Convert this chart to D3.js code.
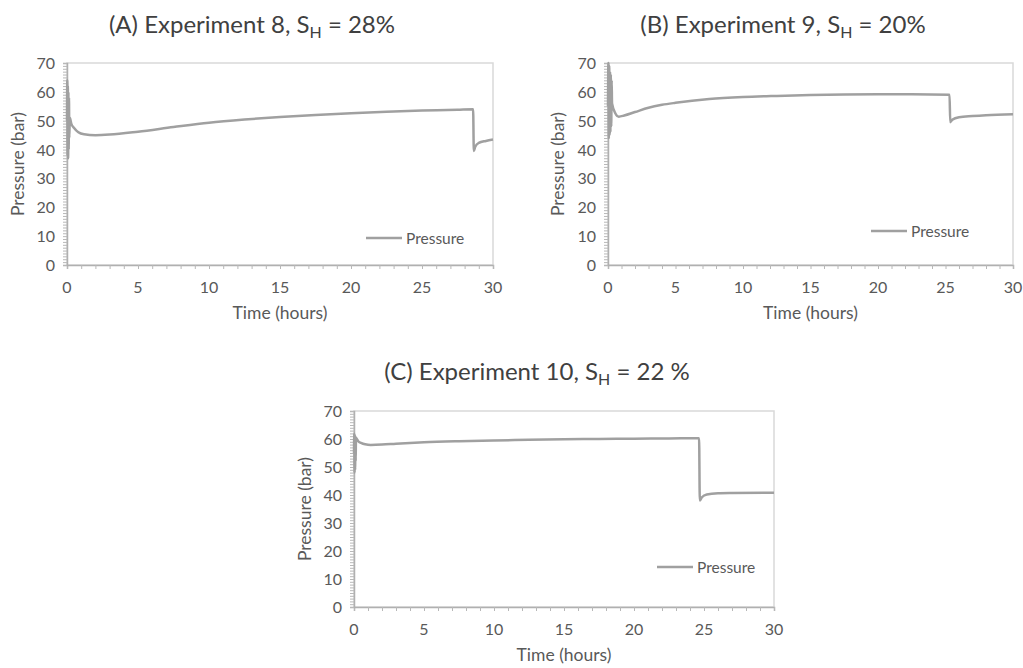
<!DOCTYPE html>
<html>
<head>
<meta charset="utf-8">
<script src="https://cdn.jsdelivr.net/npm/d3@7"></script>
<style>
  body { margin: 0; background: #fff; }
  svg { font-family: Lato, "Open Sans", sans-serif; }
</style>
</head>
<body>
<div id="chart"></div>
<script>
// --- data (time in hours, pressure in bar) ---
const timeA = [0, 0.02, 0.04, 0.06, 0.08, 0.10, 0.12, 0.14, 0.16, 0.2, 0.3, 0.5, 0.8, 1.2, 2, 3, 5, 7.5, 10, 12.5, 15, 17.5, 20, 22.5, 25, 27.5, 28.6, 28.65, 28.75, 29, 29.5, 30];
const pressureA = [50, 64, 38, 62, 37, 60, 40, 58, 44, 51, 49, 47.5, 46, 45.3, 45, 45.2, 46.2, 47.8, 49.3, 50.4, 51.3, 52, 52.6, 53.1, 53.5, 53.8, 54, 39.5, 41, 42.3, 43, 43.5];

const timeB = [0, 0.03, 0.06, 0.09, 0.12, 0.15, 0.18, 0.21, 0.24, 0.27, 0.3, 0.55, 0.8, 1.2, 2, 3, 4, 5, 7.5, 10, 12.5, 15, 17.5, 20, 22.5, 25.3, 25.35, 25.5, 26, 27, 28, 30];
const pressureB = [55, 70, 44, 69, 45, 67, 46, 66, 48, 64, 56, 52.5, 51.4, 51.8, 53, 54.5, 55.5, 56.2, 57.5, 58.2, 58.6, 58.9, 59.1, 59.2, 59.2, 59, 49.5, 50.3, 51.2, 51.6, 51.9, 52.2];

const timeC = [0, 0.02, 0.04, 0.06, 0.08, 0.10, 0.12, 0.14, 0.2, 0.3, 0.5, 0.8, 1.2, 2, 3, 5, 7.5, 10, 12.5, 15, 17.5, 20, 22.5, 24.65, 24.7, 24.85, 25.2, 26, 27, 30];
const pressureC = [55, 62, 48, 61.5, 49, 61, 52, 60.5, 60, 59.2, 58.6, 58.1, 57.9, 58, 58.3, 58.8, 59.2, 59.5, 59.7, 59.9, 60, 60.1, 60.2, 60.3, 38, 39.2, 40.2, 40.6, 40.7, 40.8];

const xTicks = [0, 5, 10, 15, 20, 25, 30];
const yTicks = [0, 10, 20, 30, 40, 50, 60, 70];
const seriesName = "Pressure";

const W = 1023, H = 668;
const svg = d3.select("#chart").append("svg")
  .attr("width", W)
  .attr("height", H);

const textColor = "#595959";
const lineColor = "#a0a0a0";

function drawPanel(opt) {
  const { left, right, top, bottom, time, pressure, label, sub, rest, titleX, titleY, legendX, legendY, yLabelX } = opt;

  const x = d3.scaleLinear().domain([0, 30]).range([left, right]);
  const y = d3.scaleLinear().domain([0, 70]).range([bottom, top]);
  const g = svg.append("g");

  // plot frame (light)
  g.append("rect")
    .attr("x", left).attr("y", top)
    .attr("width", right - left).attr("height", bottom - top)
    .attr("fill", "none").attr("stroke", "#d9d9d9").attr("stroke-width", 1.5);

  // minor ticks
  const xAxis = g.append("g")
    .attr("transform", `translate(0,${bottom})`)
    .call(d3.axisBottom(x).tickValues(d3.range(0, 31, 1)).tickSize(4).tickFormat(""));
  const yAxis = g.append("g")
    .attr("transform", `translate(${left},0)`)
    .call(d3.axisLeft(y).tickValues(d3.range(0, 71, 1)).tickSize(4).tickFormat(""));
  [xAxis, yAxis].forEach(a => {
    a.select(".domain").attr("stroke", "#b0b0b0").attr("stroke-width", 1.5);
    a.selectAll(".tick line").attr("stroke", "#b8b8b8");
  });

  // tick labels
  g.selectAll("text.xt").data(xTicks).enter().append("text")
    .attr("x", d => x(d)).attr("y", bottom + 28)
    .attr("text-anchor", "middle").attr("fill", textColor)
    .style("font-size", "16px").text(d => d);
  g.selectAll("text.yt").data(yTicks).enter().append("text")
    .attr("x", left - 12).attr("y", d => y(d) + 6)
    .attr("text-anchor", "end").attr("fill", textColor)
    .style("font-size", "16px").text(d => d);

  // axis titles
  g.append("text")
    .attr("x", (left + right) / 2).attr("y", bottom + 54)
    .attr("text-anchor", "middle").attr("fill", textColor)
    .style("font-size", "17.5px").text("Time (hours)");
  g.append("text")
    .attr("transform", `translate(${yLabelX},${(top + bottom) / 2}) rotate(-90)`)
    .attr("text-anchor", "middle").attr("fill", textColor)
    .style("font-size", "17.5px").text("Pressure (bar)");

  // series
  const pts = time.map((t, i) => [t, pressure[i]]);
  g.append("path")
    .datum(pts)
    .attr("fill", "none")
    .attr("stroke", lineColor)
    .attr("stroke-width", 2.5)
    .attr("stroke-linejoin", "round")
    .attr("d", d3.line().x(d => x(d[0])).y(d => y(d[1])).curve(d3.curveMonotoneX));

  // legend
  g.append("line")
    .attr("x1", legendX).attr("x2", legendX + 36)
    .attr("y1", legendY).attr("y2", legendY)
    .attr("stroke", lineColor).attr("stroke-width", 2.5);
  g.append("text")
    .attr("x", legendX + 40).attr("y", legendY + 5.5)
    .attr("fill", textColor).style("font-size", "15.5px").text(seriesName);

  // title with subscript
  const t = svg.append("text")
    .attr("x", titleX).attr("y", titleY)
    .attr("text-anchor", "middle").attr("fill", "#404040")
    .style("font-size", "24px");
  t.append("tspan").text(label);
  t.append("tspan").attr("dy", 5).style("font-size", "16px").text(sub);
  t.append("tspan").attr("dy", -5).text(rest);
}

drawPanel({ left: 67, right: 493, top: 63, bottom: 265, time: timeA, pressure: pressureA,
  label: "(A) Experiment 8, S", sub: "H", rest: " = 28%", titleX: 252, titleY: 33,
  legendX: 366, legendY: 238, yLabelX: 24 });
drawPanel({ left: 608, right: 1013, top: 63, bottom: 265, time: timeB, pressure: pressureB,
  label: "(B) Experiment 9, S", sub: "H", rest: " = 20%", titleX: 783, titleY: 33,
  legendX: 871, legendY: 231, yLabelX: 564 });
drawPanel({ left: 354, right: 774, top: 411, bottom: 607, time: timeC, pressure: pressureC,
  label: "(C) Experiment 10, S", sub: "H", rest: " = 22 %", titleX: 537, titleY: 380,
  legendX: 657, legendY: 567, yLabelX: 311 });
</script>
</body>
</html>
